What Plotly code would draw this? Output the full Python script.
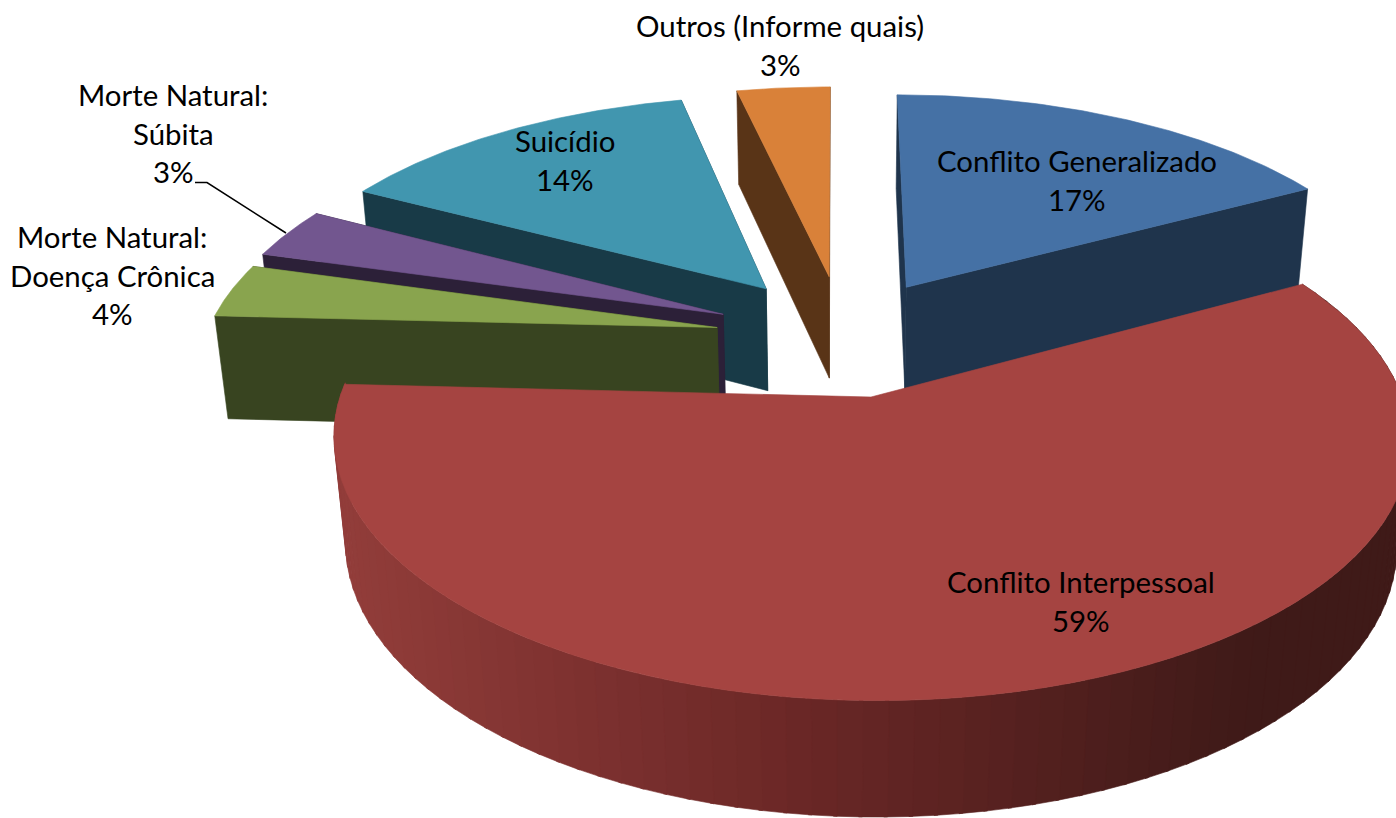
import math
import plotly.graph_objects as go

# ---- data ----
categories = ["Conflito Generalizado", "Conflito Interpessoal", "Morte Natural:\nDoença Crônica",
              "Morte Natural:\nSúbita", "Suicídio", "Outros (Informe quais)"]
values = [17.1, 58.7, 3.6, 3.4, 13.71, 3.49]

# ---- style ----
top_colors = ["#4571A5", "#A54441", "#89A44E", "#72568F", "#4196AF", "#D98139"]
side_colors = ["#1F344C", "#3F1A18", "#384420", "#2C2038", "#183A47", "#593417"]
rim_stops = [(340, (0x92, 0x3D, 0x3A)), (800, (0x6A, 0x27, 0x26)), (1250, (0x3F, 0x1A, 0x18))]
# explosion of every slice in the plane of the pie (x, depth)
explode = [(0.076, 0.462), (0.0, 0.0), (-0.300, 0.285), (-0.290, 0.342), (-0.207, 0.455), (-0.080, 0.51)]
draw_order = [5, 4, 3, 2, 0, 1]
label_pos = [(1077, 160.5), (1081, 581.5), (112, 236.5), (173, 94.5), (565, 140.5), (780, 25.5)]
LINE_H = 38.7
FONT = "Lato"
FONT_SIZE = 29.4

# ---- projection (camera looks down at the pie) ----
CX, CY = 871, 397
VX = 837          # vanishing point of the depth lines
R, H, D = 531, 255, 106
P, Q = 0.16, 0.023
P_DEPTH = 0.09


def project(X, Y, Z=0.0):
    w = 1 + P * Y + Q * Z
    wd = 1 + P_DEPTH * Y
    return VX + (R * X + CX - VX) / w, CY - H * Y / (1 + P * Y) + D * Z / wd


def rim_point(a, off, Z=0.0):
    return project(math.sin(a) + off[0], math.cos(a) + off[1], Z)


def rim_color(x):
    if x <= rim_stops[0][0]:
        c = rim_stops[0][1]
    elif x >= rim_stops[-1][0]:
        c = rim_stops[-1][1]
    else:
        for (x0, c0), (x1, c1) in zip(rim_stops, rim_stops[1:]):
            if x0 <= x <= x1:
                t = (x - x0) / (x1 - x0)
                c = tuple(round(a + (b - a) * t) for a, b in zip(c0, c1))
                break
    return "rgb(%d,%d,%d)" % c


fig = go.Figure()


def poly(points, color):
    xs = [p[0] for p in points] + [points[0][0]]
    ys = [p[1] for p in points] + [points[0][1]]
    fig.add_trace(go.Scatter(x=xs, y=ys, mode="lines", fill="toself", fillcolor=color,
                             line=dict(color=color, width=0.6), hoverinfo="skip", showlegend=False))


total = sum(values)
bounds = [0.0]
for v in values:
    bounds.append(bounds[-1] + v / total * 2 * math.pi)

for i in draw_order:
    a0, a1 = bounds[i], bounds[i + 1]
    off = explode[i]
    apex_t, apex_b = project(off[0], off[1]), project(off[0], off[1], 1)
    # curved outer wall (only the big slice shows it)
    if i == 1:
        n = 90
        for k in range(n):
            s0 = a0 + (a1 - a0) * k / n
            s1 = a0 + (a1 - a0) * (k + 1.15) / n
            pts = [rim_point(s0, off), rim_point(s1, off), rim_point(s1, off, 1), rim_point(s0, off, 1)]
            poly(pts, rim_color((pts[0][0] + pts[1][0]) / 2))
    else:
        # flat cut faces
        poly([apex_t, rim_point(a1, off), rim_point(a1, off, 1), apex_b], side_colors[i])
        poly([apex_t, rim_point(a0, off), rim_point(a0, off, 1), apex_b], side_colors[i])
    # top face
    n = 80
    arc = [rim_point(a0 + (a1 - a0) * k / n, off) for k in range(n + 1)]
    poly([apex_t] + arc, top_colors[i])

# data labels: one real text per line
annotations = []
for name, v, (lx, ly) in zip(categories, values, label_pos):
    lines = name.split("\n") + ["%d%%" % round(v)]
    for j, t in enumerate(lines):
        annotations.append(dict(x=lx, y=ly + j * LINE_H, xref="x", yref="y", text=t, showarrow=False,
                                xanchor="center", yanchor="middle",
                                font=dict(family=FONT, size=FONT_SIZE, color="#000000")))

# leader line of the "Súbita" label
leader_x = [195, 207, 286]
leader_y = [182.5, 182.5, 233]
fig.add_trace(go.Scatter(x=leader_x, y=leader_y, mode="lines", line=dict(color="#000000", width=1.5),
                         hoverinfo="skip", showlegend=False))

fig.update_layout(width=1396, height=818, margin=dict(l=0, r=0, t=0, b=0),
                  paper_bgcolor="#FFFFFF", plot_bgcolor="#FFFFFF", showlegend=False,
                  annotations=annotations,
                  xaxis=dict(range=[0, 1396], visible=False, fixedrange=True),
                  yaxis=dict(range=[818, 0], visible=False, fixedrange=True))
fig.write_html("out.html", config={"displayModeBar": False},
               post_script="document.body.style.margin='0';document.body.style.overflow='hidden';")
